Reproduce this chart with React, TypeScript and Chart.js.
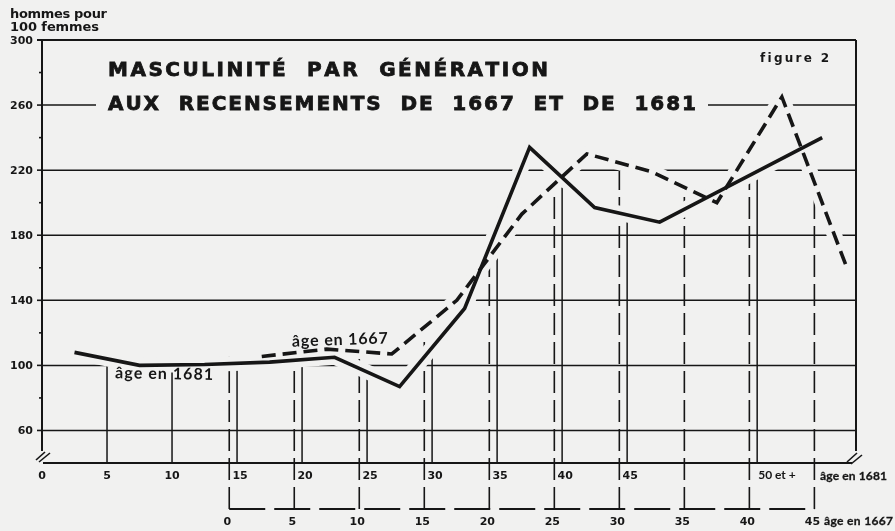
import React, { useEffect, useRef } from "react";
import { Chart, registerables } from "chart.js";

Chart.register(...registerables);

// ---- data ----
const ages1681 = [2.5, 7.5, 12.5, 17.5, 22.5, 27.5, 32.5, 37.5, 42.5, 47.5, 60];
const masc1681 = [108, 100, 100.5, 102, 105, 87, 135, 234, 197, 188, 240];

const ages1667 = [2.5, 7.5, 12.5, 17.5, 22.5, 27.5, 32.5, 37.5, 42.5, 47.5];
const masc1667 = [105.5, 110, 107, 140, 193, 230, 219, 200, 265, 160];

const ticks1681 = [0, 5, 10, 15, 20, 25, 30, 35, 40, 45, 55];
const tickLabels1681 = ["0", "5", "10", "15", "20", "25", "30", "35", "40", "45", "50 et +"];

const ticks1667 = [0, 5, 10, 15, 20, 25, 30, 35, 40, 45];
const tickLabels1667 = ["0", "5", "10", "15", "20", "25", "30", "35", "40", "45"];

const yMajorTicks = [60, 100, 140, 180, 220, 260, 300];
const yMinorTicks = [80, 120, 160, 200, 240, 280];

const AGE_SHIFT = 14.4; // age in 1667 + shift = position on the 1681 age axis
const X_MIN = 0;
const X_MAX = 62.6;
const Y_MIN = 40;
const Y_MAX = 300;

const BG = "#f1f1f0";
const INK = "#161616";

function interp(xs: number[], ys: number[], x: number, clamp = false): number | null {
  if (x < xs[0]) return clamp ? ys[0] : null;
  if (x > xs[xs.length - 1]) return clamp ? ys[ys.length - 1] : null;
  for (let i = 0; i < xs.length - 1; i++) {
    if (x >= xs[i] && x <= xs[i + 1]) {
      const t = (x - xs[i]) / (xs[i + 1] - xs[i]);
      return ys[i] + t * (ys[i + 1] - ys[i]);
    }
  }
  return ys[ys.length - 1];
}

function drawSpaced(ctx: CanvasRenderingContext2D, text: string, x0: number, x1: number, y: number, font: string, stroke = 0) {
  ctx.font = font;
  ctx.textAlign = "left";
  ctx.textBaseline = "alphabetic";
  const chars = Array.from(text);
  const widths = chars.map((c) => ctx.measureText(c).width);
  const total = widths.reduce((s, w) => s + w, 0);
  let gap = chars.length > 1 ? (x1 - x0 - total) / (chars.length - 1) : 0;
  if (gap < -0.5) gap = -0.5;
  let x = x0;
  chars.forEach((c, i) => {
    ctx.fillText(c, x, y);
    if (stroke > 0) {
      ctx.lineWidth = stroke;
      ctx.strokeText(c, x, y);
    }
    x += widths[i] + gap;
  });
}

function drawText(ctx: CanvasRenderingContext2D, text: string, x: number, y: number, font: string, align: CanvasTextAlign = "left") {
  ctx.font = font;
  ctx.textAlign = align;
  ctx.textBaseline = "alphabetic";
  ctx.fillText(text, x, y);
}

function line(ctx: CanvasRenderingContext2D, x0: number, y0: number, x1: number, y1: number) {
  ctx.beginPath();
  ctx.moveTo(x0, y0);
  ctx.lineTo(x1, y1);
  ctx.stroke();
}

const TITLE_FONT = "bold 20px 'DejaVu Sans'";
const SMALL_FONT = "bold 11px 'DejaVu Sans'";
const LABEL_FONT = "bold 12px Lato";

const figurePlugin = {
  id: "figurePlugin",
  beforeDatasetsDraw(chart: any) {
    const { ctx, chartArea: a, scales } = chart;
    const xs = scales.x, x2 = scales.x2, ys = scales.y;
    ctx.save();
    ctx.strokeStyle = INK;
    ctx.lineCap = "butt";

    // horizontal grid lines
    ctx.lineWidth = 1.5;
    yMajorTicks.forEach((v) => {
      if (v === Y_MAX) return;
      const py = ys.getPixelForValue(v);
      if (v === 260) {
        line(ctx, a.left, py, 96, py);
        line(ctx, 708, py, a.right, py);
      } else {
        line(ctx, a.left, py, a.right, py);
      }
    });

    // solid verticals (1681 ages) up to the lower curve
    ctx.lineWidth = 1.5;
    ticks1681.forEach((t) => {
      if (t === 0) return;
      const px = xs.getPixelForValue(t);
      const v1 = interp(ages1681, masc1681, t);
      const v2 = interp(ages1667, masc1667, t - AGE_SHIFT);
      const vals = [v1, v2].filter((v) => v !== null) as number[];
      const v = Math.min(...vals);
      line(ctx, px, a.bottom, px, ys.getPixelForValue(v));
    });

    // dashed verticals (1667 ages) up to the dashed curve
    const axis1667Y = a.bottom + 46;
    ctx.setLineDash([22, 7]);
    ctx.lineWidth = 1.6;
    ticks1667.forEach((t) => {
      const px = x2.getPixelForValue(t);
      const v = interp(ages1667, masc1667, t, true) as number;
      line(ctx, px, axis1667Y, px, ys.getPixelForValue(v));
    });
    ctx.setLineDash([]);
    ctx.restore();
  },
  afterDatasetsDraw(chart: any) {
    const { ctx, chartArea: a, scales } = chart;
    const xs = scales.x, x2 = scales.x2, ys = scales.y;
    ctx.save();
    ctx.strokeStyle = INK;
    ctx.fillStyle = INK;

    // frame
    ctx.lineWidth = 2;
    line(ctx, a.left - 5, a.top, a.right, a.top);
    line(ctx, a.left, a.top, a.left, a.bottom - 12);
    line(ctx, a.right, a.top, a.right, a.bottom - 12);
    line(ctx, a.left + 1, a.bottom, a.right - 4, a.bottom);
    // break marks
    ctx.lineWidth = 1.6;
    line(ctx, a.left - 6, a.bottom - 3, a.left + 3, a.bottom - 11);
    line(ctx, a.left - 3, a.bottom - 1, a.left + 8, a.bottom - 10);
    line(ctx, a.right - 9, a.bottom - 1, a.right + 1, a.bottom - 10);
    line(ctx, a.right - 5, a.bottom + 1, a.right + 6, a.bottom - 8);

    // y ticks and labels
    ctx.lineWidth = 1.6;
    yMajorTicks.forEach((v) => {
      const py = ys.getPixelForValue(v);
      line(ctx, a.left - 5, py, a.left, py);
    });
    yMinorTicks.forEach((v) => {
      const py = ys.getPixelForValue(v);
      line(ctx, a.left - 3, py, a.left, py);
    });
    yMajorTicks.forEach((v) => {
      const py = ys.getPixelForValue(v);
      drawText(ctx, String(v), a.left - 9, py + 4, SMALL_FONT, "right");
    });

    // y axis title
    drawSpaced(ctx, "hommes pour", 10, 107, 18, "bold 13px 'DejaVu Sans'");
    drawSpaced(ctx, "100 femmes", 10, 99, 31, "bold 13px 'DejaVu Sans'");

    // 1681 age axis labels
    ticks1681.forEach((t, i) => {
      const px = xs.getPixelForValue(t);
      const lab = tickLabels1681[i];
      if (lab.length > 2) {
        drawText(ctx, lab, px + 1, a.bottom + 16, LABEL_FONT, "left");
      } else {
        drawText(ctx, lab, px + (t >= 15 ? 3 : 0), a.bottom + 16, SMALL_FONT, "center");
      }
    });
    drawSpaced(ctx, "âge en 1681", 820, 887, a.bottom + 17, LABEL_FONT, 0.3);

    // 1667 age axis
    const axis1667Y = a.bottom + 46;
    ctx.lineWidth = 2;
    ctx.setLineDash([36, 9]);
    line(ctx, x2.getPixelForValue(ticks1667[0]), axis1667Y, x2.getPixelForValue(ticks1667[ticks1667.length - 1]), axis1667Y);
    ctx.setLineDash([]);
    ticks1667.forEach((t, i) => {
      const px = x2.getPixelForValue(t);
      drawText(ctx, tickLabels1667[i], px - 2, axis1667Y + 16, SMALL_FONT, "center");
    });
    drawSpaced(ctx, "âge en 1667", 824, 893, axis1667Y + 16, LABEL_FONT, 0.3);

    // in-plot series labels
    ctx.save();
    ctx.translate(164, 379);
    ctx.rotate((1 * Math.PI) / 180);
    drawSpaced(ctx, "âge en 1681", -49, 49, 0, "bold 16px Lato");
    ctx.restore();
    ctx.save();
    ctx.translate(340, 345);
    ctx.rotate((-2 * Math.PI) / 180);
    drawSpaced(ctx, "âge en 1667", -48, 48, 0, "bold 16px Lato");
    ctx.restore();

    // titles
    drawSpaced(ctx, "MASCULINITÉ  PAR  GÉNÉRATION", 108, 548, 76, TITLE_FONT, 0.8);
    drawSpaced(ctx, "AUX  RECENSEMENTS  DE  1667  ET  DE  1681", 108, 696, 110, TITLE_FONT, 0.8);
    drawSpaced(ctx, "figure 2", 760, 829, 62, "bold 12px 'DejaVu Sans'");

    ctx.restore();
  },
};

export default function App() {
  const canvasRef = useRef<HTMLCanvasElement | null>(null);

  useEffect(() => {
    document.body.style.margin = "0";
    document.body.style.background = BG;
    const canvas = canvasRef.current;
    if (!canvas) return;
    const pts1681 = ages1681.map((x, i) => ({ x, y: masc1681[i] }));
    const pts1667 = ages1667.map((x, i) => ({ x, y: masc1667[i] }));
    const chart = new Chart(canvas, {
      type: "line",
      data: {
        datasets: [
          {
            label: "âge en 1681",
            data: pts1681,
            xAxisID: "x",
            yAxisID: "y",
            borderColor: INK,
            borderWidth: 3.6,
            pointRadius: 0,
            tension: 0,
            borderJoinStyle: "miter",
            order: 1,
          },
          {
            label: "âge en 1667",
            data: pts1667,
            xAxisID: "x2",
            yAxisID: "y",
            borderColor: INK,
            borderWidth: 3.6,
            borderDash: [14, 7],
            pointRadius: 0,
            tension: 0,
            order: 2,
          },
          {
            label: "halo 1681",
            data: pts1681,
            xAxisID: "x",
            yAxisID: "y",
            borderColor: BG,
            borderWidth: 15,
            borderCapStyle: "round",
            borderJoinStyle: "round",
            pointRadius: 0,
            tension: 0,
            order: 3,
          },
          {
            label: "halo 1667",
            data: pts1667,
            xAxisID: "x2",
            yAxisID: "y",
            borderColor: BG,
            borderWidth: 15,
            borderCapStyle: "round",
            borderJoinStyle: "round",
            pointRadius: 0,
            tension: 0,
            order: 4,
          },
        ],
      },
      options: {
        animation: false,
        responsive: false,
        maintainAspectRatio: false,
        devicePixelRatio: 1,
        layout: { padding: { left: 42, top: 40, right: 39, bottom: 68 } },
        plugins: { legend: { display: false }, tooltip: { enabled: false }, title: { display: false } },
        scales: {
          x: { type: "linear", axis: "x", position: "bottom", min: X_MIN, max: X_MAX, display: false },
          x2: { type: "linear", axis: "x", position: "bottom", min: X_MIN - AGE_SHIFT, max: X_MAX - AGE_SHIFT, display: false },
          y: { type: "linear", min: Y_MIN, max: Y_MAX, display: false },
        },
      },
      plugins: [figurePlugin],
    } as any);
    return () => chart.destroy();
  }, []);

  return (
    <div style={{ position: "absolute", left: 0, top: 0, width: 895, height: 531, background: BG }}>
      <canvas ref={canvasRef} width={895} height={531} style={{ display: "block" }} />
    </div>
  );
}
